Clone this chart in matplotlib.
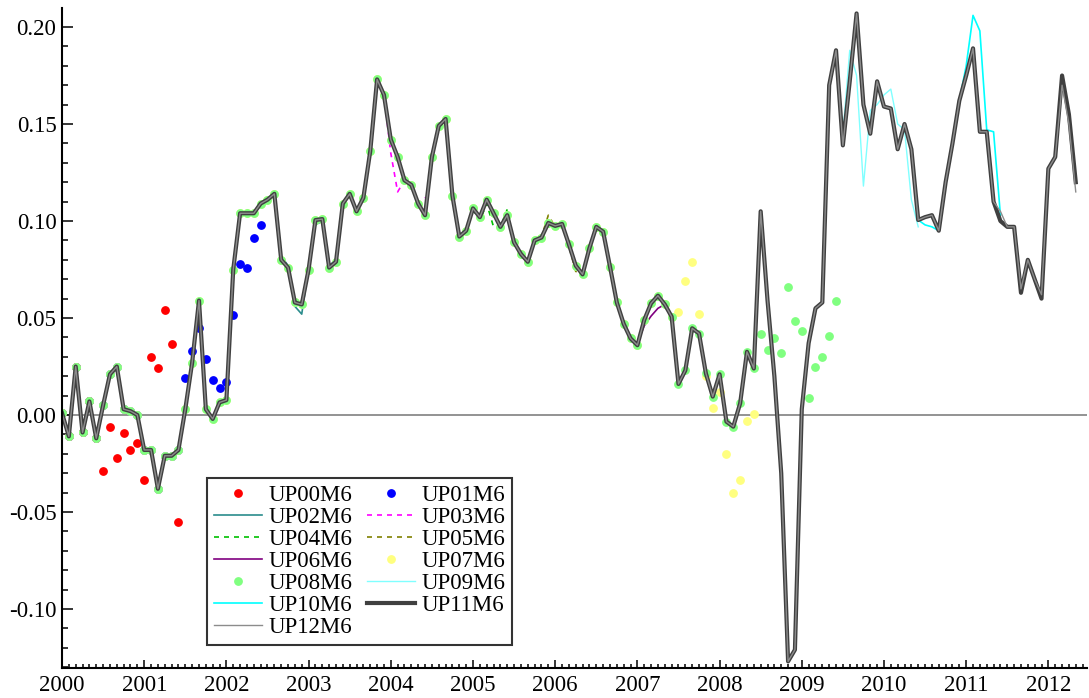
import matplotlib
matplotlib.use("Agg")
import matplotlib.pyplot as plt
from matplotlib.ticker import MultipleLocator, FormatStrFormatter
import numpy as np

plt.rcParams['font.family'] = ['Liberation Serif', 'DejaVu Serif']
plt.rcParams['axes.unicode_minus'] = False

# monthly dates, Jan 2000 .. May 2012
years = 2000 + np.arange(149) / 12.0

# UP11M6: full monthly history (and its last forecasts)
up11 = [0.001, -0.011, 0.025, -0.009, 0.007, -0.012, 0.005, 0.021, 0.025, 0.003, 0.002, 0.000,
        -0.018, -0.018, -0.038, -0.021, -0.021, -0.018, 0.003, 0.027, 0.059, 0.003, -0.002, 0.0065,
        0.0077, 0.075, 0.104, 0.104, 0.104, 0.109, 0.111, 0.114, 0.080, 0.076, 0.058, 0.057,
        0.075, 0.1005, 0.101, 0.076, 0.079, 0.109, 0.114, 0.105, 0.112, 0.136, 0.173, 0.165,
        0.142, 0.133, 0.121, 0.1186, 0.109, 0.103, 0.133, 0.149, 0.1526, 0.113, 0.092, 0.095,
        0.1065, 0.102, 0.111, 0.104, 0.097, 0.103, 0.089, 0.083, 0.079, 0.090, 0.0915, 0.099,
        0.0975, 0.0985, 0.088, 0.077, 0.0725, 0.086, 0.097, 0.0945, 0.0765, 0.058, 0.047, 0.0395,
        0.036, 0.049, 0.0576, 0.0615, 0.057, 0.0507, 0.016, 0.023, 0.0447, 0.042, 0.0215, 0.0095,
        0.021, -0.0034, -0.006, 0.006, 0.0326, 0.024, 0.105, 0.059, 0.020, -0.030, -0.127, -0.121,
        0.003, 0.037, 0.055, 0.058, 0.170, 0.188, 0.139, 0.172, 0.207, 0.160, 0.145, 0.172,
        0.159, 0.158, 0.137, 0.150, 0.137, 0.1005, 0.102, 0.103, 0.095, 0.120, 0.140, 0.162,
        0.175, 0.189, 0.146, 0.146, 0.110, 0.100, 0.097, 0.097, 0.063, 0.080, 0.070, 0.060,
        0.127, 0.133, 0.175, 0.155, 0.120]

# 12-month forecasts made each June
up00_fc = [-0.0289, -0.0064, -0.022, -0.0093, -0.018, -0.0143, -0.0335, 0.0297, 0.024, 0.054, 0.0366, -0.0553]
up01_fc = [0.019, 0.033, 0.045, 0.029, 0.018, 0.014, 0.017, 0.0515, 0.078, 0.076, 0.091, 0.098]
up02_fc = [0.111, 0.113, 0.082, 0.077, 0.056, 0.052, 0.076, 0.098, 0.100, 0.077, 0.080, 0.108]
up03_fc = [0.114, 0.104, 0.112, 0.136, 0.172, 0.165, 0.135, 0.115, 0.121, 0.118, 0.109, 0.112]
up04_fc = [0.133, 0.149, 0.152, 0.113, 0.092, 0.095, 0.106, 0.100, 0.109, 0.097, 0.097, 0.106]
up05_fc = [0.089, 0.083, 0.078, 0.090, 0.092, 0.103, 0.097, 0.098, 0.087, 0.074, 0.073, 0.086]
up06_fc = [0.097, 0.094, 0.077, 0.058, 0.047, 0.040, 0.037, 0.046, 0.051, 0.055, 0.057, 0.050]
up07_fc = [0.053, 0.069, 0.079, 0.052, 0.020, 0.0035, 0.012, -0.020, -0.040, -0.0335, -0.003, 0.0005]
up08_fc = [0.0416, 0.0337, 0.0395, 0.0318, 0.066, 0.0485, 0.0434, 0.009, 0.025, 0.0297, 0.0405, 0.059]
up09_fc = [0.145, 0.188, 0.175, 0.118, 0.157, 0.160, 0.165, 0.168, 0.150, 0.147, 0.111, 0.097]
up10_fc = [0.098, 0.097, 0.095, 0.120, 0.141, 0.162, 0.180, 0.206, 0.198, 0.147, 0.146, 0.103]
# UP12M6 latest data for Jun 2011 .. May 2012
up12_recent = [0.110, 0.105, 0.097, 0.097, 0.065, 0.080, 0.070, 0.062, 0.127, 0.133, 0.170, 0.150, 0.115]

labels = ['UP%02dM6' % k for k in range(13)]
forecasts = [up00_fc, up01_fc, up02_fc, up03_fc, up04_fc, up05_fc, up06_fc,
             up07_fc, up08_fc, up09_fc, up10_fc]

styles = [
    dict(ls='none', marker='o', ms=5.3, color='#ff0000'),
    dict(ls='none', marker='o', ms=5.3, color='#0000ff'),
    dict(ls='-', lw=1.2, color='#2a8c8c'),
    dict(ls=(0, (3, 3)), lw=1.2, color='#ff00ff'),
    dict(ls=(0, (3, 3)), lw=1.2, color='#00c000'),
    dict(ls=(0, (3, 3)), lw=1.2, color='#808000'),
    dict(ls='-', lw=1.2, color='#800080'),
    dict(ls='none', marker='o', ms=5.3, color='#ffff80'),
    dict(ls='none', marker='o', ms=5.3, color='#80ff80'),
    dict(ls='-', lw=1.0, color='#80ffff'),
    dict(ls='-', lw=1.2, color='#00ffff'),
    dict(ls='-', lw=3.0, color='#404040'),
    dict(ls='-', lw=1.0, color='#8c8c8c'),
]

fig = plt.figure(figsize=(10.89, 6.98), dpi=100)
ax = fig.add_axes([62 / 1089, 1 - 668 / 698, 1025 / 1089, 660 / 698])

ax.axhline(0, color='#808080', lw=1.2, zorder=1)

handles = []
for k, fc in enumerate(forecasts):
    start = 12 * k + 6
    vals = up11[:start] + fc
    h, = ax.plot(years[:start + 12], vals, label=labels[k], zorder=2, **styles[k])
    handles.append(h)

h, = ax.plot(years, up11, label=labels[11], zorder=2, **styles[11])
handles.append(h)
up12 = up11[:136] + up12_recent
h, = ax.plot(years, up12, label=labels[12], zorder=2, **styles[12])
handles.append(h)

ax.set_xlim(2000, 2012.47)
ax.set_ylim(-0.1304, 0.2098)

ax.xaxis.set_major_locator(MultipleLocator(1))
ax.xaxis.set_minor_locator(MultipleLocator(1 / 12))
ax.xaxis.set_major_formatter(FormatStrFormatter('%d'))
ax.yaxis.set_major_locator(MultipleLocator(0.05))
ax.yaxis.set_minor_locator(MultipleLocator(0.01))
ax.yaxis.set_major_formatter(FormatStrFormatter('%.2f'))

ax.tick_params(axis='both', which='both', direction='in', width=1.1, labelsize=16.5)
ax.tick_params(axis='y', which='major', length=8, pad=4)
ax.tick_params(axis='y', which='minor', length=4.5)
ax.tick_params(axis='x', which='major', length=6, pad=5)
ax.tick_params(axis='x', which='minor', length=3)

for side in ['top', 'right']:
    ax.spines[side].set_visible(False)
for side in ['left', 'bottom']:
    ax.spines[side].set_linewidth(1.5)

# row-major legend order in two columns
order = [0, 2, 4, 6, 8, 10, 12, 1, 3, 5, 7, 9, 11]
leg = ax.legend([handles[i] for i in order], [labels[i] for i in order], ncol=2,
                loc='upper left', bbox_to_anchor=(145 / 1025, 190 / 660), borderaxespad=0,
                fontsize=16.5, frameon=True, fancybox=False, edgecolor='black',
                labelspacing=0.04, handlelength=2.1, handletextpad=0.3,
                columnspacing=0.6, borderpad=0.3, numpoints=1)
leg.get_frame().set_linewidth(1.5)

fig.savefig('out.png', dpi=100)
